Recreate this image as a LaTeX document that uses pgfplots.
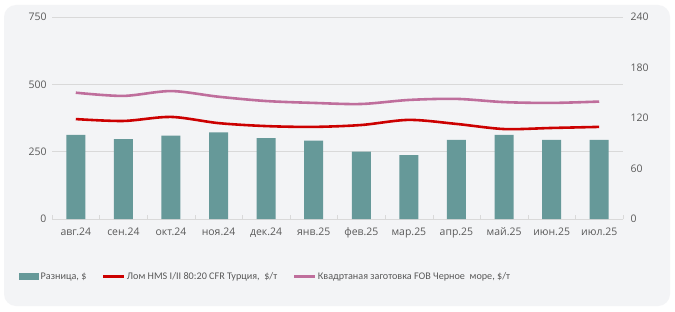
\documentclass[border=0pt]{standalone}
\usepackage{pgfplots}
\pgfplotsset{compat=1.18}
\usepackage{fontspec}
\setmainfont{Open Sans}
\newfontfamily\legfont{Carlito}
\definecolor{bg}{HTML}{F3F4F6}
\definecolor{barc}{HTML}{669999}
\definecolor{redc}{HTML}{CC0000}
\definecolor{pinkc}{HTML}{BF6E9C}
\definecolor{txt}{HTML}{595959}
\definecolor{gridc}{HTML}{D9D9D9}
\pgfplotstableread{
x diff scrap billet
0 100 371 469
1 95 364 457
2 99 379 475
3 103 356 454
4 96 345 438
5 93 342 431
6 80 349 427
7 76 368 442
8 94 353 446
9 100 334 434
10 94 338 431
11 94 342 436
}\data
\begin{document}
\begin{tikzpicture}[x=1bp,y=1bp]
\path[fill=white] (0,0) rectangle (675,311);
\path[fill=bg, rounded corners=12bp] (4,5) rectangle (670,306);
\pgfplotsset{
  base/.style={
    scale only axis, width=571bp, height=202bp,
    at={(52bp,92bp)}, anchor=south west,
    xmin=-0.5, xmax=11.5,
    tick label style={font=\fontsize{10.5}{12}\selectfont, text=txt},
    /pgf/number format/assume math mode=true,
  }
}
% left axis with grid and x labels
\begin{axis}[base,
  ymin=0, ymax=750, ytick={0,250,500,750},
  axis y line*=left, axis x line*=bottom,
  y axis line style={draw=none},
  x axis line style={draw=gridc},
  ymajorgrids, grid style={draw=gridc, line width=0.6pt},
  major tick length=0pt,
  yticklabel style={xshift=-2bp},
  xtick={0,...,11},
  xticklabels={авг.24,сен.24,окт.24,ноя.24,дек.24,янв.25,фев.25,мар.25,апр.25,май.25,июн.25,июл.25},
  xticklabel style={yshift=-5bp},
  extra x ticks={-0.5,0.5,1.5,2.5,3.5,4.5,5.5,6.5,7.5,8.5,9.5,10.5,11.5},
  extra x tick labels={},
  extra x tick style={grid=none, major tick length=4bp, tick style={draw=gridc}, xtick pos=bottom},
]
\end{axis}
% right axis, bars
\begin{axis}[base,
  ymin=0, ymax=240, ytick={0,60,120,180,240},
  axis y line*=right, axis x line=none,
  y axis line style={draw=none},
  major tick length=0pt,
  yticklabel style={xshift=4bp},
  xtick=\empty,
]
\addplot[ybar, bar width=19bp, fill=barc, draw=none] table[x=x,y=diff]{\data};
\end{axis}
% left axis, lines
\begin{axis}[base,
  ymin=0, ymax=750, axis lines=none, xtick=\empty, ytick=\empty,
  legend columns=3,
  legend style={at={(-0.0578,-0.255)}, anchor=north west, draw=none, fill=none,
    font=\legfont\fontsize{10.2}{12}\selectfont, text=txt,
    /tikz/every even column/.append style={column sep=14bp},
    inner sep=0pt, nodes={inner sep=1.5bp}},
  legend image code/.code={\draw[#1] (0bp,0bp) -- (21bp,0bp);},
]
\addlegendimage{area legend, fill=barc, draw=none, legend image code/.code={\fill[barc] (0bp,-3.5bp) rectangle (20bp,3.5bp);}}
\addlegendentry{Разница, \$}
\addplot[redc, line width=2.6pt, smooth, tension=0.5] table[x=x,y=scrap]{\data};
\addlegendentry{Лом HMS I/II 80:20 CFR Турция,\ \ \$/т}
\addplot[pinkc, line width=2.6pt, smooth, tension=0.5] table[x=x,y=billet]{\data};
\addlegendentry{Квадртаная заготовка FOB Черное\ \ море, \$/т}
\end{axis}
\end{tikzpicture}
\end{document}
